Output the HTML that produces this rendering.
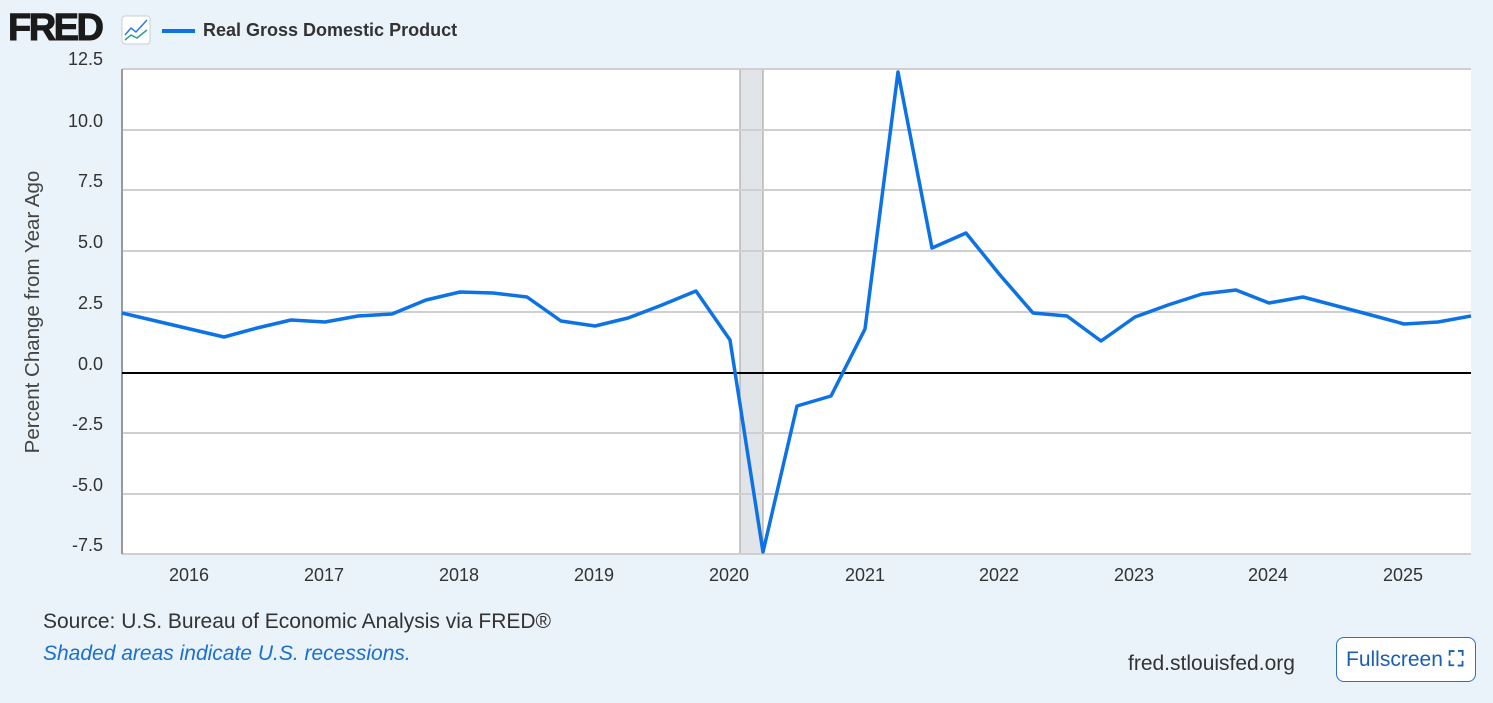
<!DOCTYPE html>
<html><head><meta charset="utf-8"><style>
body{margin:0;width:1493px;height:703px;background:#eaf2fa;font-family:"Liberation Sans",sans-serif;overflow:hidden;position:relative}
.t{position:absolute;white-space:nowrap}
.y{position:absolute;left:0;width:103px;text-align:right;font-size:18px;color:#333}
.x{position:absolute;top:565px;font-size:18px;color:#333}
</style></head><body>
<svg width="1493" height="703" style="position:absolute;left:0;top:0">
<rect x="122" y="69" width="1349" height="485" fill="#fff"/>
<rect x="740" y="69" width="23" height="485" fill="#e1e5ea" stroke="#9a9a9a" stroke-width="1"/>
<g stroke="#cfcfcf" stroke-width="2">
<line x1="122" y1="69" x2="1471" y2="69"/><line x1="122" y1="130" x2="1471" y2="130"/>
<line x1="122" y1="190" x2="1471" y2="190"/><line x1="122" y1="251" x2="1471" y2="251"/>
<line x1="122" y1="312" x2="1471" y2="312"/><line x1="122" y1="433" x2="1471" y2="433"/>
<line x1="122" y1="494" x2="1471" y2="494"/><line x1="122" y1="554" x2="1471" y2="554"/>
</g>
<line x1="122" y1="69" x2="122" y2="554" stroke="#9a9a9a" stroke-width="2"/>
<line x1="122" y1="373" x2="1471" y2="373" stroke="#000" stroke-width="2"/>
<polyline fill="none" stroke="#0d72e4" stroke-width="3.5" stroke-linejoin="round" points="122,313 156,321 190,329 224,337 257,328 291,320 325,322 358,316 392,314 426,300 460,292 493,293 527,297 561,321 595,326 628,318 662,305 696,291 730,340 763,552 797,406 831,396 865,329 898,72 932,248 966,233 1000,275 1033,313 1067,316 1101,341 1135,317 1168,305 1202,294 1236,290 1269,303 1303,297 1337,306 1371,315 1404,324 1438,322 1471,316"/>
<line x1="162" y1="31" x2="195" y2="31" stroke="#0d72e4" stroke-width="4"/>
<rect x="122" y="16" width="28" height="28" rx="3" fill="#fff" stroke="#c9cfd6"/>
<polyline points="125,35 131,28 136,32 147,20" fill="none" stroke="#2a7be0" stroke-width="1.5"/>
<polyline points="125,40 131,35 137,38 147,30" fill="none" stroke="#2aa08a" stroke-width="1.5"/>
</svg>
<div class="t" style="left:8px;top:7px;font-size:38px;font-weight:900;color:#1a1a1a;letter-spacing:-2.5px;-webkit-text-stroke:1px #1a1a1a">FRED</div>
<div class="t" style="left:203px;top:20px;font-size:18px;font-weight:bold;color:#333">Real Gross Domestic Product</div>
<div class="y" style="top:49px">12.5</div>
<div class="y" style="top:111px">10.0</div>
<div class="y" style="top:171px">7.5</div>
<div class="y" style="top:232px">5.0</div>
<div class="y" style="top:293px">2.5</div>
<div class="y" style="top:354px">0.0</div>
<div class="y" style="top:414px">-2.5</div>
<div class="y" style="top:475px">-5.0</div>
<div class="y" style="top:535px">-7.5</div>
<div class="t" style="left:33px;top:312px;transform:translate(-50%,-50%) rotate(-90deg);font-size:20.5px;color:#444">Percent Change from Year Ago</div>
<div class="x" style="left:169px">2016</div>
<div class="x" style="left:304px">2017</div>
<div class="x" style="left:439px">2018</div>
<div class="x" style="left:574px">2019</div>
<div class="x" style="left:709px">2020</div>
<div class="x" style="left:845px">2021</div>
<div class="x" style="left:979px">2022</div>
<div class="x" style="left:1114px">2023</div>
<div class="x" style="left:1248px">2024</div>
<div class="x" style="left:1383px">2025</div>
<div class="t" style="left:43px;top:610px;font-size:21px;color:#333">Source: U.S. Bureau of Economic Analysis via FRED®</div>
<div class="t" style="left:43px;top:642px;font-size:21px;color:#1a6fd0;font-style:italic">Shaded areas indicate U.S. recessions.</div>
<div class="t" style="left:1128px;top:652px;font-size:21px;color:#333">fred.stlouisfed.org</div>
<div class="t" style="left:1336px;top:637px;width:140px;height:45px;border:1px solid #2a6fc9;border-radius:8px;background:#fff;box-sizing:border-box;font-size:21px;color:#1a5fb4;line-height:43px;padding-left:9px">Fullscreen <b>⛶</b></div>
</body></html>
